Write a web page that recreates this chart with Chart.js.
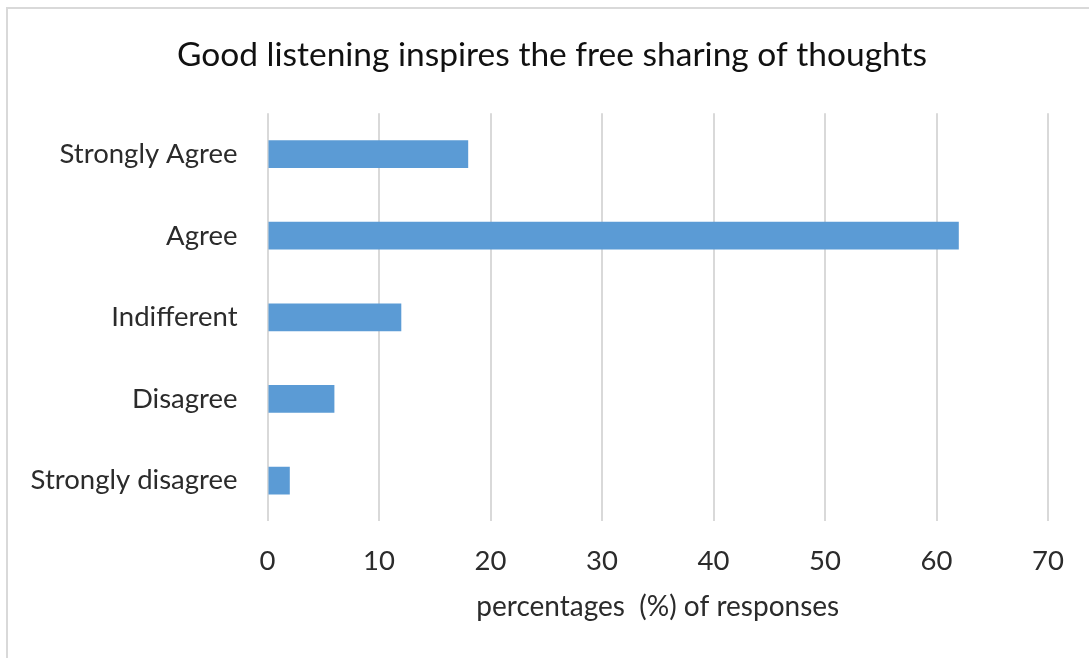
<!DOCTYPE html>
<html>
<head>
<meta charset="utf-8">
<script src="https://cdn.jsdelivr.net/npm/chart.js@4.4.0/dist/chart.umd.min.js"></script>
<style>
  html, body { margin: 0; padding: 0; background: #fff; }
  #wrap { width: 1089px; height: 658px; }
</style>
</head>
<body>
<div id="wrap"><canvas id="chart"></canvas></div>
<script>
const categories = ["Strongly Agree", "Agree", "Indifferent", "Disagree", "Strongly disagree"];
const responses = [18, 62, 12, 6, 2];
const xTicks = [0, 10, 20, 30, 40, 50, 60, 70];

const FONT = "Lato, 'Open Sans', sans-serif";

// light grey frame round the chart, like the office chart border
const frame = {
    id: "frame",
    beforeDraw(chart) {
        const ctx = chart.ctx;
        ctx.save();
        ctx.fillStyle = "#fff";
        ctx.fillRect(0, 0, chart.width, chart.height);
        ctx.strokeStyle = "#d9d9d9";
        ctx.lineWidth = 2;
        ctx.strokeRect(7, 8, chart.width + 20, chart.height + 20);
        ctx.restore();
    }
};

// the title sits a little right of the chart centre
const titleShift = {
    id: "titleShift",
    afterLayout(chart) {
        if (chart.titleBlock) chart.titleBlock.left += 48;
    }
};

new Chart(document.getElementById("chart"), {
    type: "bar",
    data: {
        labels: categories,
        datasets: [{
            data: responses,
            backgroundColor: "#5b9bd5",
            borderWidth: 0,
            categoryPercentage: 1,
            barPercentage: 0.34
        }]
    },
    options: {
        indexAxis: "y",
        responsive: true,
        maintainAspectRatio: false,
        animation: false,
        layout: { padding: { left: 8, right: 41, top: 35, bottom: 34 } },
        plugins: {
            legend: { display: false },
            tooltip: { enabled: false },
            title: {
                display: true,
                text: "Good listening inspires the free sharing of thoughts",
                color: "#111",
                font: { family: FONT, size: 33.5, weight: "normal" },
                padding: { top: 0, bottom: 38 }
            }
        },
        scales: {
            x: {
                min: 0,
                max: 70,
                afterBuildTicks(scale) {
                    scale.ticks = xTicks.map(v => ({ value: v }));
                },
                grid: { color: "#d9d9d9", lineWidth: 2, drawTicks: false },
                border: { display: false },
                ticks: {
                    color: "#2b2b2b",
                    padding: 23,
                    font: { family: FONT, size: 27.5 }
                },
                title: {
                    display: true,
                    text: "percentages  (%) of responses",
                    color: "#2b2b2b",
                    font: { family: FONT, size: 28 },
                    padding: { top: -10, bottom: 0 }
                }
            },
            y: {
                grid: { display: false, drawTicks: false },
                border: { display: false },
                ticks: {
                    color: "#2b2b2b",
                    padding: 30,
                    font: { family: FONT, size: 27.5 }
                },
                afterFit(scale) {
                    scale.width = 259.5;
                }
            }
        }
    },
    plugins: [frame, titleShift]
});
</script>
</body>
</html>
